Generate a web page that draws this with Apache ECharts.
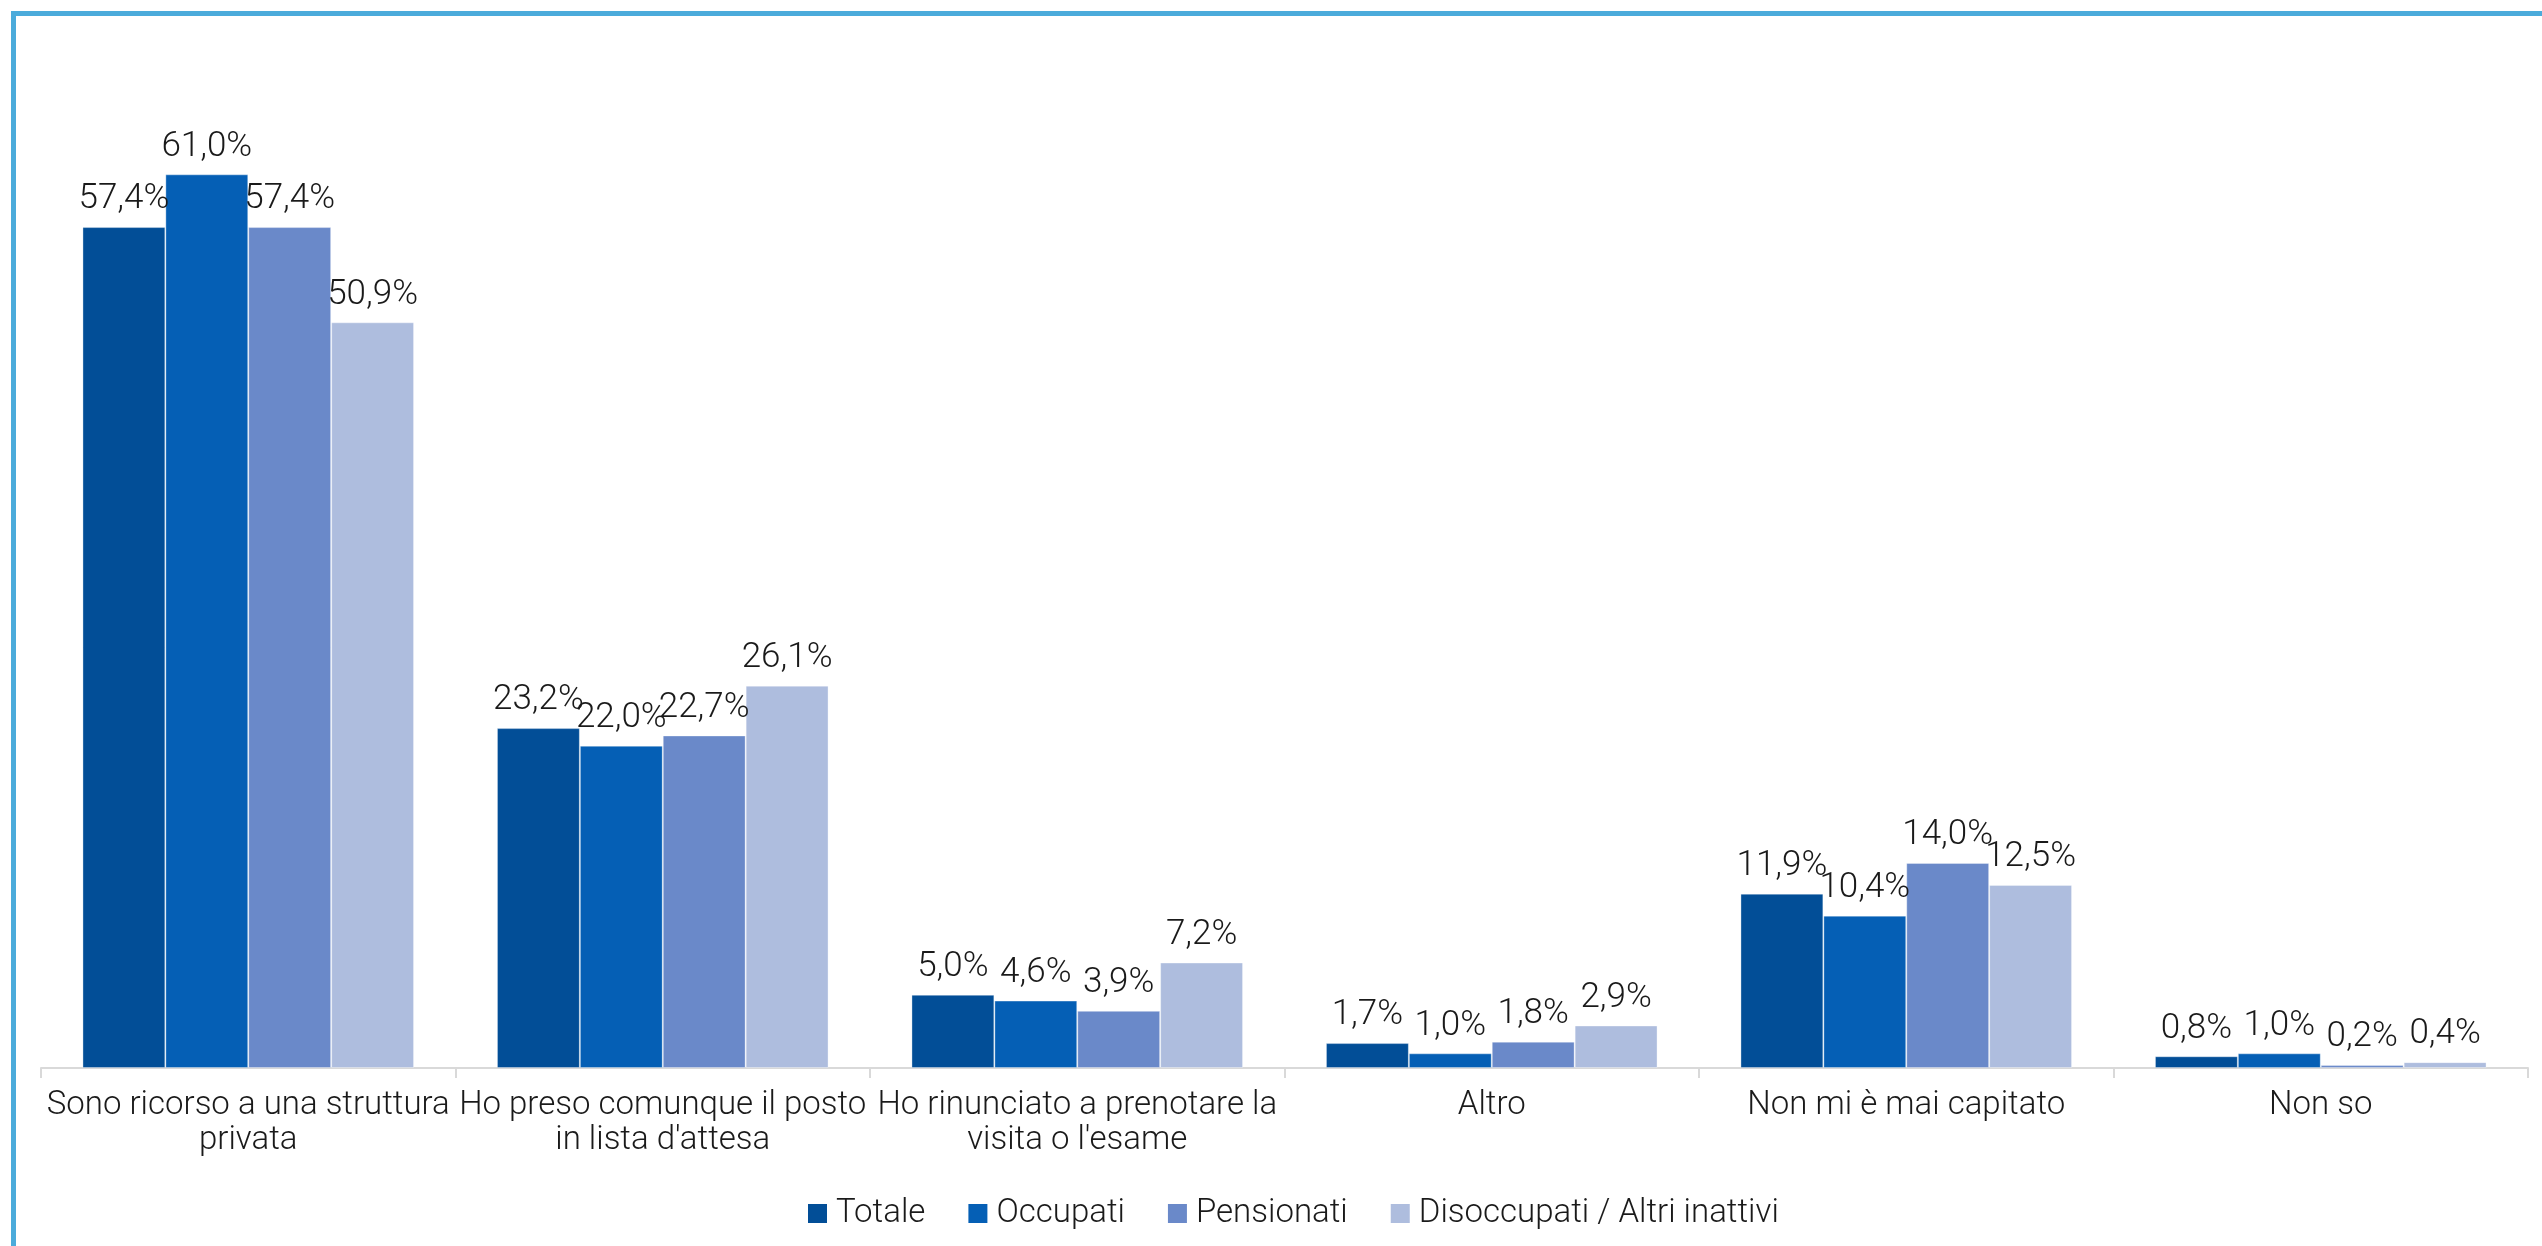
<!DOCTYPE html>
<html>
<head>
<meta charset="utf-8">
<script src="https://cdn.jsdelivr.net/npm/echarts@6/dist/echarts.min.js"></script>
<style>
html,body{margin:0;padding:0;background:#fff;overflow:hidden;}
#c{width:2542px;height:1246px;}
</style>
</head>
<body>
<div id="c"></div>
<script>
const categories = [
  "Sono ricorso a una struttura\nprivata",
  "Ho preso comunque il posto\nin lista d'attesa",
  "Ho rinunciato a prenotare la\nvisita o l'esame",
  "Altro",
  "Non mi è mai capitato",
  "Non so"
];
const seriesNames = ["Totale", "Occupati", "Pensionati", "Disoccupati / Altri inattivi"];
const totale = [57.4, 23.2, 5.0, 1.7, 11.9, 0.8];
const occupati = [61.0, 22.0, 4.6, 1.0, 10.4, 1.0];
const pensionati = [57.4, 22.7, 3.9, 1.8, 14.0, 0.2];
const disoccupati = [50.9, 26.1, 7.2, 2.9, 12.5, 0.4];
const colors = ["#024E97", "#055FB5", "#6A89C9", "#AEBDDE"];

const FONT = "Roboto";
const allData = [totale, occupati, pensionati, disoccupati];

const chart = echarts.init(document.getElementById('c'));
chart.setOption({
  animation: false,
  textStyle: { fontFamily: FONT },
  graphic: [{
    type: 'rect',
    shape: { x: 13.5, y: 13.5, width: 2700, height: 1400 },
    style: { fill: 'none', stroke: '#4BABDB', lineWidth: 5 },
    z: 100
  }],
  legend: {
    data: seriesNames,
    top: 1192,
    left: 803,
    itemWidth: 19,
    itemHeight: 19,
    itemGap: 43,
    icon: 'rect',
    itemStyle: { borderWidth: 0 },
    textStyle: { fontFamily: FONT, fontWeight: 300, fontSize: 33, color: '#1a1a1a', padding: [0, 0, 0, 4] }
  },
  grid: { left: 41, right: 14, top: 42.5, bottom: 178, containLabel: false },
  xAxis: {
    type: 'category',
    data: categories,
    axisLine: { lineStyle: { color: '#D9D9D9', width: 2 } },
    axisTick: { show: true, length: 10, lineStyle: { color: '#D9D9D9', width: 2 } },
    axisLabel: {
      interval: 0,
      margin: 20,
      fontFamily: FONT,
      fontWeight: 300,
      fontSize: 33,
      lineHeight: 35,
      color: '#1a1a1a'
    }
  },
  yAxis: {
    type: 'value',
    min: 0,
    max: 70,
    show: false,
    splitLine: { show: false }
  },
  series: seriesNames.map((name, i) => ({
    name: name,
    type: 'bar',
    data: allData[i],
    barGap: '0%',
    barCategoryGap: '20%',
    itemStyle: { color: colors[i], borderColor: 'rgba(255,255,255,0.35)', borderWidth: 1 },
    label: {
      show: true,
      position: 'top',
      distance: 10,
      fontFamily: FONT,
      fontWeight: 300,
      fontSize: 35,
      color: '#1a1a1a',
      formatter: p => p.value.toFixed(1).replace('.', ',') + '%'
    }
  }))
});
</script>
</body>
</html>
